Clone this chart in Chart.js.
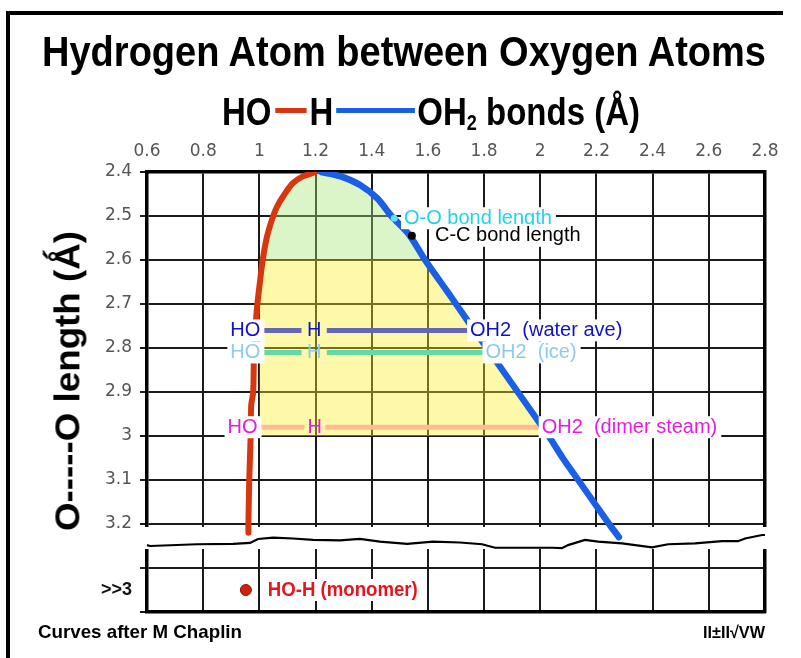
<!DOCTYPE html>
<html>
<head>
<meta charset="utf-8">
<script src="https://cdn.jsdelivr.net/npm/chart.js@4.4.1/dist/chart.umd.min.js"></script>
<style>
  html, body { margin: 0; padding: 0; background: #fff; }
  #wrap { position: relative; width: 801px; height: 658px; overflow: hidden; background: #fff; }
  #chart { position: absolute; left: 0; top: 0; }
  .frame { position: absolute; background: #000; }
  .txt { position: absolute; left: 0; top: 0; white-space: nowrap; line-height: 1;
         font-family: "Liberation Sans", Arial, sans-serif; font-weight: bold; color: #000;
         transform-origin: 0 0; }
  .ln { display: inline-block; height: 0.13em; vertical-align: 0.31em; }
  .sub2 { font-size: 0.55em; vertical-align: -0.22em; }
</style>
</head>
<body>
<div id="wrap">
  <canvas id="chart" width="801" height="658"></canvas>
  <div class="frame" style="left:6px; top:11px; width:777px; height:4px;"></div>
  <div class="frame" style="left:6px; top:11px; width:4px; height:660px;"></div>
  <div id="title" class="txt">Hydrogen Atom between Oxygen Atoms</div>
  <div id="subtitle" class="txt"><span>HO</span><span class="ln" style="background:#d7370f"></span><span>H</span><span class="ln" style="background:#1a5fe6"></span><span>OH<span class="sub2">2</span> bonds (Å)</span></div>
  <div id="ytitle" class="txt">O-----O length (Ǻ)</div>
  <div id="foot" class="txt">Curves after M Chaplin</div>
  <div id="logo" class="txt">II±II√VW</div>
</div>
<script>
// axes
const xTicks = [0.6, 0.8, 1.0, 1.2, 1.4, 1.6, 1.8, 2.0, 2.2, 2.4, 2.6, 2.8];
const xTickLabels = ['0.6', '0.8', '1', '1.2', '1.4', '1.6', '1.8', '2', '2.2', '2.4', '2.6', '2.8'];
const yTicks = [2.4, 2.5, 2.6, 2.7, 2.8, 2.9, 3.0, 3.1, 3.2, 3.3, 3.35, 3.4];
const yTickLabels = ['2.4', '2.5', '2.6', '2.7', '2.8', '2.9', '3', '3.1', '3.2', '', '>>3', ''];

// HO-H bond (red) : x = bond length, y = O...O length
const redX = [1.20, 1.155, 1.12, 1.09, 1.062, 1.044, 1.026, 1.012, 1.002, 0.993, 0.985, 0.981, 0.978, 0.971, 0.969, 0.964, 0.961, 0.961];
const redY = [2.40, 2.41, 2.425, 2.45, 2.48, 2.51, 2.55, 2.60, 2.65, 2.70, 2.76, 2.80, 2.90, 2.93, 3.00, 3.10, 3.20, 3.22];

// H...OH2 bond (blue)
const blueX = [1.22, 1.29, 1.36, 1.42, 1.47, 1.53, 1.59, 1.645, 1.70, 1.765, 1.81, 1.865, 1.92, 1.975, 2.03, 2.08, 2.135, 2.19, 2.245, 2.28];
const blueY = [2.40, 2.41, 2.43, 2.46, 2.50, 2.54, 2.60, 2.65, 2.70, 2.76, 2.80, 2.85, 2.90, 2.95, 3.00, 3.05, 3.10, 3.15, 3.20, 3.23];

// shaded zones
const greenBottom = 2.6;
const yellowLeft = 1.0;
const yellowBottom = 3.0;

// HO—H——OH2 rows
const rowNames = ['water ave', 'ice', 'dimer steam'];
const rowY = [2.76, 2.81, 2.98];
const rowStart = [1.0, 1.0, 0.99];
const rowGapFrom = [1.15, 1.15, 1.16];
const rowGapTo = [1.24, 1.24, 1.235];
const rowEnd = [1.75, 1.805, 2.005];

// reference points
const ooBond = { x: 1.48, y: 2.505 };
const ccBond = { x: 1.543, y: 2.545 };
const monomer = { x: 0.952, y: 3.35 };
const ooLabelX = 1.515, ccLabelX = 1.625, monomerLabelX = 1.03;

// axis break line
const waveX = [0.6, 0.611, 0.778, 0.906, 0.967, 0.995, 1.049, 1.12, 1.191, 1.287, 1.358, 1.429, 1.526, 1.618, 1.714, 1.793, 1.839, 2.042, 2.077, 2.099, 2.159, 2.206, 2.291, 2.398, 2.455, 2.551, 2.647, 2.704, 2.729, 2.79, 2.8];
const waveY = [3.248, 3.25, 3.246, 3.245, 3.243, 3.234, 3.231, 3.233, 3.236, 3.237, 3.234, 3.240, 3.245, 3.240, 3.242, 3.246, 3.254, 3.254, 3.255, 3.248, 3.236, 3.240, 3.244, 3.253, 3.246, 3.244, 3.239, 3.239, 3.233, 3.225, 3.225];
const breakMid = 3.2318;

const rowLine = ['#6767b8', '#63d9a6', '#ffbb96'];
const rowText = ['#1111cc', '#8ecaf0', '#e81ce0'];
const tickGray = '#555';

const pts = (xs, ys) => xs.map((x, i) => ({ x, y: ys[i] }));
const redPts = pts(redX, redY);
const bluePts = pts(blueX, blueY);
const greenEdge = [...redPts.filter(p => p.y <= greenBottom).reverse(), ...bluePts.filter(p => p.y <= greenBottom)];
const yellowEdge = [{ x: yellowLeft, y: greenBottom }, ...bluePts.filter(p => p.y >= greenBottom && p.y <= yellowBottom)];

const base = { showLine: true, pointRadius: 0, tension: 0 };
const datasets = [
  { ...base, data: greenEdge, borderWidth: 0, backgroundColor: 'rgba(167,230,117,0.4)', fill: { value: greenBottom }, order: 20 },
  { ...base, data: yellowEdge, borderWidth: 0, backgroundColor: 'rgba(250,240,40,0.4)', fill: { value: yellowBottom }, order: 19 },
  { ...base, data: [{ x: 0.585, y: breakMid }, { x: 2.815, y: breakMid }], borderColor: '#fff', borderWidth: 22, clip: false, order: 15 },
];
rowY.forEach((v, i) => {
  datasets.push({ ...base, data: [{ x: rowStart[i], y: v }, { x: rowGapFrom[i], y: v }], borderColor: rowLine[i], borderWidth: 5, order: 12 });
  datasets.push({ ...base, data: [{ x: rowGapTo[i], y: v }, { x: rowEnd[i], y: v }], borderColor: rowLine[i], borderWidth: 5, order: 12 });
});
datasets.push(
  { ...base, data: pts(waveX, waveY), borderColor: '#000', borderWidth: 2.2, clip: false, order: 10 },
  { ...base, data: redPts, borderColor: '#d7370f', borderWidth: 6, tension: 0.3, borderCapStyle: 'round', order: 8 },
  { ...base, data: bluePts, borderColor: '#1a5fe6', borderWidth: 6.5, tension: 0.3, borderCapStyle: 'round', order: 7 },
  { showLine: false, data: [ooBond], pointRadius: 3.5, backgroundColor: '#5fe3f2', borderWidth: 0, order: 1 },
  { showLine: false, data: [ccBond], pointRadius: 4, backgroundColor: '#000', borderWidth: 0, order: 1 },
  { showLine: false, data: [monomer], pointRadius: 5.5, backgroundColor: '#d2200f', borderColor: '#8a1408', borderWidth: 1, order: 1 }
);

function label(ctx, text, px, py, align, color, box, maxW) {
  let w = ctx.measureText(text).width;
  if (maxW && w > maxW) w = maxW;
  const x0 = align === 'right' ? px - w : align === 'center' ? px - w / 2 : px;
  if (box) {
    ctx.fillStyle = '#fff';
    ctx.fillRect(x0 - 3, py - 11, w + 7, 22);
  }
  ctx.fillStyle = color;
  ctx.textAlign = 'left';
  if (maxW) ctx.fillText(text, x0, py, maxW); else ctx.fillText(text, x0, py);
}

const annotations = {
  id: 'annotations',
  afterDatasetsDraw(chart) {
    const { ctx, scales: { x, y } } = chart;
    ctx.save();
    ctx.textBaseline = 'middle';
    ctx.font = '20px "Liberation Sans", Arial, sans-serif';
    rowY.forEach((v, i) => {
      const py = y.getPixelForValue(v);
      label(ctx, 'HO', x.getPixelForValue(rowStart[i]) + 1, py, 'right', rowText[i], true);
      label(ctx, 'H', x.getPixelForValue((rowGapFrom[i] + rowGapTo[i]) / 2), py, 'center', rowText[i], false);
      label(ctx, 'OH2  (' + rowNames[i] + ')', x.getPixelForValue(rowEnd[i]), py, 'left', rowText[i], true);
    });
    label(ctx, 'O-O bond length', x.getPixelForValue(ooLabelX), y.getPixelForValue(ooBond.y), 'left', '#22d3ec', true);
    label(ctx, 'C-C bond length', x.getPixelForValue(ccLabelX), y.getPixelForValue(ccBond.y), 'left', '#000', true);
    ctx.font = 'bold 20px "Liberation Sans", Arial, sans-serif';
    label(ctx, 'HO-H (monomer)', x.getPixelForValue(monomerLabelX), y.getPixelForValue(monomer.y), 'left', '#e8141c', true, 150);
    ctx.restore();
  }
};

const edgeAxis = (position, size) => ({
  type: 'linear', position,
  min: position === 'bottom' ? 0.6 : 2.4, max: position === 'bottom' ? 2.8 : 3.4,
  grid: { display: false }, ticks: { display: false },
  border: { color: '#000', width: 3.5 },
  afterFit: s => { if (position === 'bottom') s.height = size; else s.width = size; }
});

new Chart(document.getElementById('chart'), {
  type: 'scatter',
  data: { datasets },
  options: {
    responsive: false,
    animation: false,
    events: [],
    layout: { padding: 0 },
    plugins: { legend: { display: false }, tooltip: { enabled: false } },
    scales: {
      x: {
        type: 'linear', position: 'top', min: 0.6, max: 2.8,
        afterBuildTicks: s => { s.ticks = xTicks.map(v => ({ value: v })); },
        afterFit: s => { s.height = 172; },
        ticks: { autoSkip: false, maxRotation: 0, padding: 10, color: tickGray,
                 font: { family: 'DejaVu Sans', size: 17 }, callback: (v, i) => xTickLabels[i] },
        grid: { color: '#1a1a1a', lineWidth: 2, drawTicks: false },
        border: { color: '#000', width: 3.5 }
      },
      y: {
        type: 'linear', position: 'left', reverse: true, min: 2.4, max: 3.4,
        afterBuildTicks: s => { s.ticks = yTicks.map(v => ({ value: v })); },
        afterFit: s => { s.width = 147; },
        ticks: { autoSkip: false, padding: 8,
                 color: c => yTickLabels[c.index] === '>>3' ? '#111' : tickGray,
                 font: c => yTickLabels[c.index] === '>>3'
                   ? { family: 'Liberation Sans', size: 18, weight: 'bold' }
                   : { family: 'DejaVu Sans', size: 17 },
                 callback: (v, i) => yTickLabels[i] },
        grid: { lineWidth: 2, tickLength: 7,
                color: c => yTickLabels[c.index] === '>>3' ? 'rgba(0,0,0,0)' : '#1a1a1a' },
        border: { color: '#000', width: 3.5 }
      },
      x2: edgeAxis('bottom', 46),
      y2: edgeAxis('right', 36)
    }
  },
  plugins: [annotations]
});

// HTML texts, squeezed horizontally to the reference widths
const ASC = 0.8465;
function place(id, x, baseline, size, width) {
  const el = document.getElementById(id);
  el.style.fontSize = size + 'px';
  const w = el.getBoundingClientRect().width;
  el.style.transform = `translate(${x}px, ${baseline - ASC * size}px) scaleX(${width / w})`;
}
place('title', 42, 67, 42, 724);
place('foot', 38, 638, 19, 204);
place('logo', 703, 638, 17, 62);

(function () {
  const el = document.getElementById('subtitle');
  const size = 39;
  el.style.fontSize = size + 'px';
  const lines = el.querySelectorAll('.ln');
  lines.forEach(l => { l.style.width = '0px'; });
  const T = el.getBoundingClientRect().width;
  const lens = [31, 79], gaps = [[4, 3], [3, 2]];
  const k = (418 - 31 - 79 - 12) / T;
  lines.forEach((l, i) => {
    l.style.width = lens[i] / k + 'px';
    l.style.marginLeft = gaps[i][0] / k + 'px';
    l.style.marginRight = gaps[i][1] / k + 'px';
  });
  el.style.transform = `translate(222px, ${125 - ASC * size}px) scaleX(${k})`;
})();

(function () {
  const el = document.getElementById('ytitle');
  const size = 35;
  el.style.fontSize = size + 'px';
  const w = el.getBoundingClientRect().width;
  el.style.transform = `translate(${79 - ASC * size}px, 531px) rotate(-90deg) scaleX(${300 / w})`;
})();
</script>
</body>
</html>
